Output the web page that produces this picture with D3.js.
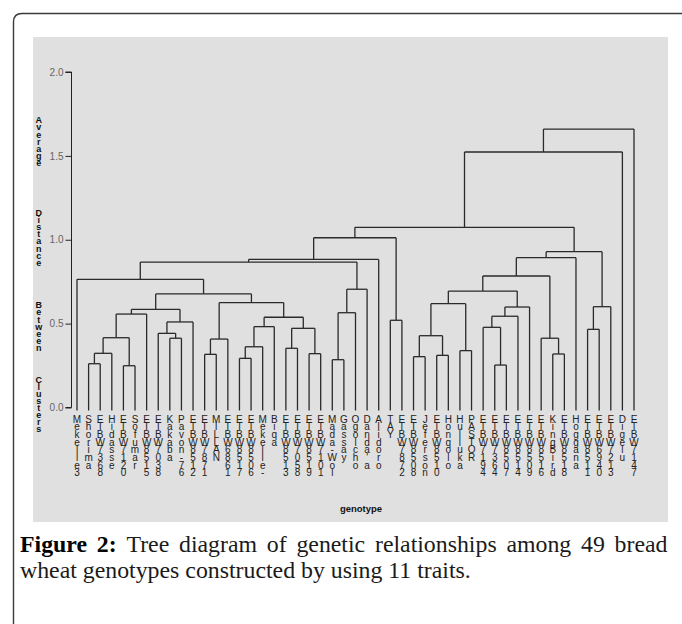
<!DOCTYPE html>
<html><head><meta charset="utf-8">
<script src="https://cdn.jsdelivr.net/npm/d3@7"></script>
<style>html,body{margin:0;padding:0;background:#fff;} svg{display:block}</style>
</head><body>
<script>
// ---------------- DATA ----------------
const genotypes = ["Mekelle3","Shorima","ETBW7368","Hidasse","ETBW7120","Sofumar","ETBW8515","ETBW7038",
  "Kakaba","Pavon-76","ETBW8512","ETBW7871","MILLAN","ETBW6861","ETBW8517","ETBW8506","Mekelle-",
  "Biqa","ETBW8513","ETBW7058","ETBW8519","ETBW7101","Mada-Wol","Gassay","Ogolcho","Danda'a",
  "Alidoro","TAY","ETBW7872","ETBW8508","Jeferson","ETBW8510","Honqolo","Hulluka","PASTOR",
  "ETBW7194","ETBW7364","ETBW8507","ETBW8514","ETBW8509","ETBW8516","KingBird","ETBW8518",
  "Hoggana","ETBW8511","ETBW6940","ETBW7213","Digelu","ETBW7147"];
// linkage: [left, right, height]; index < 49 = leaf, >= 49 = earlier merge (49 + row)
const merges = [
  [1,2,0.261],[49,3,0.323],[4,5,0.249],[50,51,0.416],[52,6,0.557],
  [8,9,0.413],[7,54,0.442],[55,10,0.510],[53,56,0.585],
  [11,12,0.317],[58,13,0.408],
  [14,15,0.293],[60,16,0.362],[61,17,0.482],
  [18,19,0.353],[20,21,0.321],[63,64,0.472],[62,65,0.538],[59,66,0.625],
  [57,67,0.677],[0,68,0.764],
  [22,23,0.285],[70,24,0.565],[71,25,0.705],[69,72,0.867],[73,26,0.883],
  [27,28,0.520],[74,75,1.012],
  [29,30,0.303],[31,32,0.311],[77,78,0.428],[33,34,0.339],[79,80,0.619],
  [36,37,0.253],[35,82,0.478],[83,38,0.544],[84,39,0.599],[81,85,0.694],
  [41,42,0.319],[40,87,0.413],[86,88,0.784],[89,43,0.893],
  [44,45,0.466],[91,46,0.601],[90,92,0.929],
  [76,93,1.074],[94,47,1.523],[95,48,1.660]
];
const yTicks = [0, 0.5, 1.0, 1.5, 2.0];
const yTitleWords = ["Average", "Distance", "Between", "Clusters"];
const xTitle = "genotype";
const captionBold = ["Figure", "2:"];
const captionLine1 = "Tree diagram of genetic relationships among 49 bread";
const captionLine2 = "wheat genotypes constructed by using 11 traits.";

// ---------------- LAYOUT ----------------
const W = 682, H = 624;
const svg = d3.select("body").append("svg").attr("width", W).attr("height", H);

// outer frame
svg.append("path")
  .attr("d", `M13.5,${H + 5} L13.5,22 Q13.5,13.5 22,13.5 L${W + 5},13.5`)
  .attr("fill", "none").attr("stroke", "#3a3a3a").attr("stroke-width", 1.4);

// gray panel
svg.append("rect").attr("x", 33).attr("y", 37).attr("width", 635).attr("height", 485)
  .attr("fill", "#e0e0e0");

const x = d3.scalePoint().domain(genotypes).range([77, 634]);
const y = d3.scaleLinear().domain([0, 2]).range([407.5, 72]);

// y axis
const yAxis = d3.axisLeft(y).tickValues(yTicks).tickFormat(d3.format(".1f")).tickSize(6).tickPadding(2);
const gy = svg.append("g").attr("transform", "translate(71.5,0)").call(yAxis);
gy.select(".domain").attr("stroke", "#222").attr("d", `M-6,${y(2)}H0V${y(0)}H-6`);
gy.selectAll(".tick line").attr("stroke", "#222");
gy.selectAll(".tick text").attr("fill", "#666").attr("font-size", 10)
  .attr("font-family", "Liberation Sans, Arial, sans-serif");

// hierarchy from linkage
const nodes = genotypes.map(g => ({ name: g, h: 0 }));
merges.forEach(([a, b, h]) => nodes.push({ children: [nodes[a], nodes[b]], h }));
const root = d3.hierarchy(nodes[nodes.length - 1], d => d.children);
root.eachAfter(n => {
  n.px = n.children ? d3.mean(n.children, c => c.px) : x(n.data.name);
});

const links = svg.append("g").attr("fill", "none").attr("stroke", "#2a2a2a").attr("stroke-width", 1.3);
root.each(n => {
  if (!n.children) return;
  const yy = y(n.data.h);
  links.append("line").attr("x1", n.children[0].px).attr("x2", n.children[1].px)
    .attr("y1", yy).attr("y2", yy);
  n.children.forEach(c => {
    const y0 = c.children ? y(c.data.h) : y(0) + 3;
    links.append("line").attr("x1", c.px).attr("x2", c.px).attr("y1", y0).attr("y2", yy);
  });
});

// leaf labels, stacked characters
const lab = svg.append("g").attr("font-family", "Liberation Sans, Arial, sans-serif")
  .attr("font-size", 10).attr("fill", "#222").attr("text-anchor", "middle");
root.leaves().forEach(l => {
  const t = lab.append("text").attr("x", l.px).attr("y", 422.5);
  Array.from(l.data.name).forEach((ch, i) => {
    t.append("tspan").attr("x", l.px).attr("y", 422.5 + i * 7.7).text(ch);
  });
});

// y title stacked, word by word
const wordTop = [120, 212.7, 305, 379.3];
const yt = svg.append("text").attr("font-family", "Liberation Sans, Arial, sans-serif")
  .attr("font-size", 9).attr("font-weight", "bold").attr("fill", "#111").attr("text-anchor", "middle");
yTitleWords.forEach((w, wi) => {
  Array.from(w).forEach((ch, i) => {
    yt.append("tspan").attr("x", 38.7).attr("y", wordTop[wi] + 3.3 + i * 7.1).text(ch);
  });
});

// x title
svg.append("text").attr("x", 361).attr("y", 512).attr("text-anchor", "middle")
  .attr("font-family", "Liberation Sans, Arial, sans-serif").attr("font-size", 9.5)
  .attr("font-weight", "bold").attr("fill", "#111").text(xTitle);

// caption
const capFont = "Liberation Serif, Times New Roman, serif";
const probe = svg.append("text").attr("font-family", capFont).attr("font-size", 20).text(captionLine2);
const fs = 20 * 451 / probe.node().getComputedTextLength();
probe.remove();

const cap = svg.append("g").attr("font-family", capFont).attr("font-size", fs).attr("fill", "#1a1a1a");
const words = captionBold.map(w => ({ w, b: true })).concat(captionLine1.split(" ").map(w => ({ w, b: false })));
const wEls = words.map(o => cap.append("text").attr("y", 552)
  .attr("font-weight", o.b ? "bold" : "normal").attr("fill", o.b ? "#000" : "#1a1a1a").text(o.w));
const widths = wEls.map(e => e.node().getComputedTextLength());
const gap = (667.5 - 20 - d3.sum(widths)) / (words.length - 1);
let cx = 20;
wEls.forEach((e, i) => { e.attr("x", cx); cx += widths[i] + gap; });
cap.append("text").attr("x", 20).attr("y", 578).text(captionLine2);
</script>
</body></html>
